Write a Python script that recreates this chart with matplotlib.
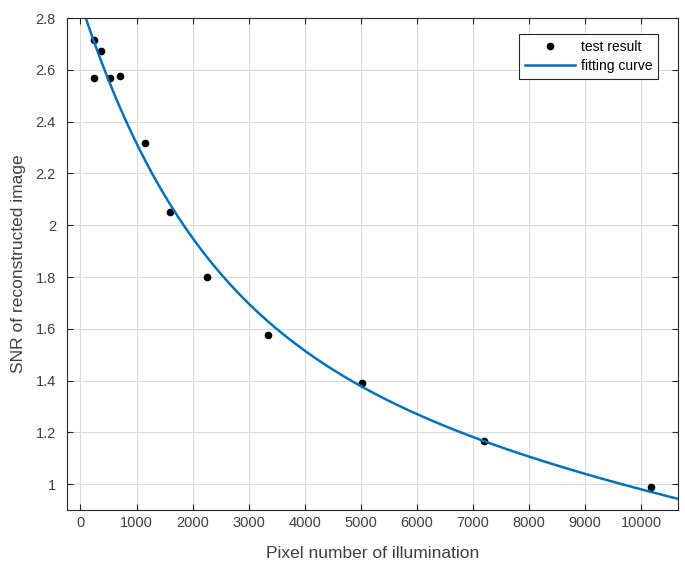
import numpy as np
import matplotlib.pyplot as plt
from matplotlib.ticker import FuncFormatter

plt.rcParams['font.family'] = ['Liberation Sans', 'DejaVu Sans']

# test points
pixel_num = [240, 250, 370, 535, 700, 1160, 1600, 2250, 3350, 5030, 7200, 10180]
snr = [2.570, 2.714, 2.675, 2.568, 2.576, 2.317, 2.052, 1.800, 1.577, 1.390, 1.165, 0.989]

# points
curve_x = [107, 451, 672, 772, 1000, 1277, 1753, 1884, 2000, 2525, 3000, 3506,
           4000, 5000, 6000, 6536, 7200, 9863, 10660]
curve_y = [2.80, 2.60, 2.465, 2.40, 2.311, 2.20, 2.022, 2.00, 1.964, 1.80, 1.701, 1.598,
           1.527, 1.383, 1.273, 1.212, 1.151, 0.985, 0.953]

x_ticks = list(range(0, 10001, 1000))
y_ticks = [1, 1.2, 1.4, 1.6, 1.8, 2, 2.2, 2.4, 2.6, 2.8]

# two-term exponential  y = a*exp(b*x) + c*exp(d*x), fitted to the curve readings
# grid over the rates, linear least squares for the amplitudes
cx = np.array(curve_x, dtype=float)
cy = np.array(curve_y)
B = np.linspace(-2e-3, -1.5e-4, 400)
D = np.linspace(-1.5e-4, 0, 300)
E1 = np.exp(B[:, None, None] * cx)
E2 = np.exp(D[None, :, None] * cx)
s11 = (E1 * E1).sum(-1)
s12 = (E1 * E2).sum(-1)
s22 = (E2 * E2).sum(-1)
t1 = (E1 * cy).sum(-1)
t2 = (E2 * cy).sum(-1)
det = s11 * s22 - s12 ** 2
det[np.abs(det) < 1e-12] = np.nan
A = (t1 * s22 - t2 * s12) / det
C = (s11 * t2 - s12 * t1) / det
res = ((A[..., None] * E1 + C[..., None] * E2 - cy) ** 2).sum(-1)
i, j = np.unravel_index(np.nanargmin(res), res.shape)
fa, fb, fc, fd = A[i, j], B[i], C[i, j], D[j]

xlim = (-240, 10660)
xf = np.linspace(xlim[0], xlim[1], 600)
yf = fa * np.exp(fb * xf) + fc * np.exp(fd * xf)

fig = plt.figure(figsize=(6.85, 5.78), dpi=100)
ax = fig.add_axes([0.0978, 0.1176, 0.892, 0.851])

ax.plot(pixel_num, snr, 'o', color='black', markersize=4.5, label='test result')
ax.plot(xf, yf, color='#0072BD', linewidth=1.8, label='fitting curve')

ax.set_xlim(*xlim)
ax.set_ylim(0.9, 2.8)
ax.set_xticks(x_ticks)
ax.set_yticks(y_ticks)
ax.yaxis.set_major_formatter(FuncFormatter(lambda v, p: f'{v:g}'))

gray = '#262626'
ax.grid(True, color='#dcdcdc', linewidth=0.8)
ax.set_axisbelow(True)
ax.tick_params(direction='in', top=True, right=True, length=4, width=0.8,
               colors=gray, labelsize=10.5, labelcolor='#404040')
ax.tick_params(axis='x', pad=4)
ax.tick_params(axis='y', pad=8)
for s in ax.spines.values():
    s.set_color(gray)
    s.set_linewidth(0.8)

ax.set_xlabel('Pixel number of illumination', fontsize=12.5, color='#404040', labelpad=12)
ax.set_ylabel('SNR of reconstructed image', fontsize=12.5, color='#404040', labelpad=7)

leg = ax.legend(loc='upper right', fontsize=10, fancybox=False, edgecolor=gray,
                framealpha=1, bbox_to_anchor=(0.968, 0.968), borderaxespad=0,
                handlelength=3.6, borderpad=0.45, labelspacing=0.35, handletextpad=0.4)
leg.get_frame().set_linewidth(0.8)

fig.savefig('out.png', dpi=100)
